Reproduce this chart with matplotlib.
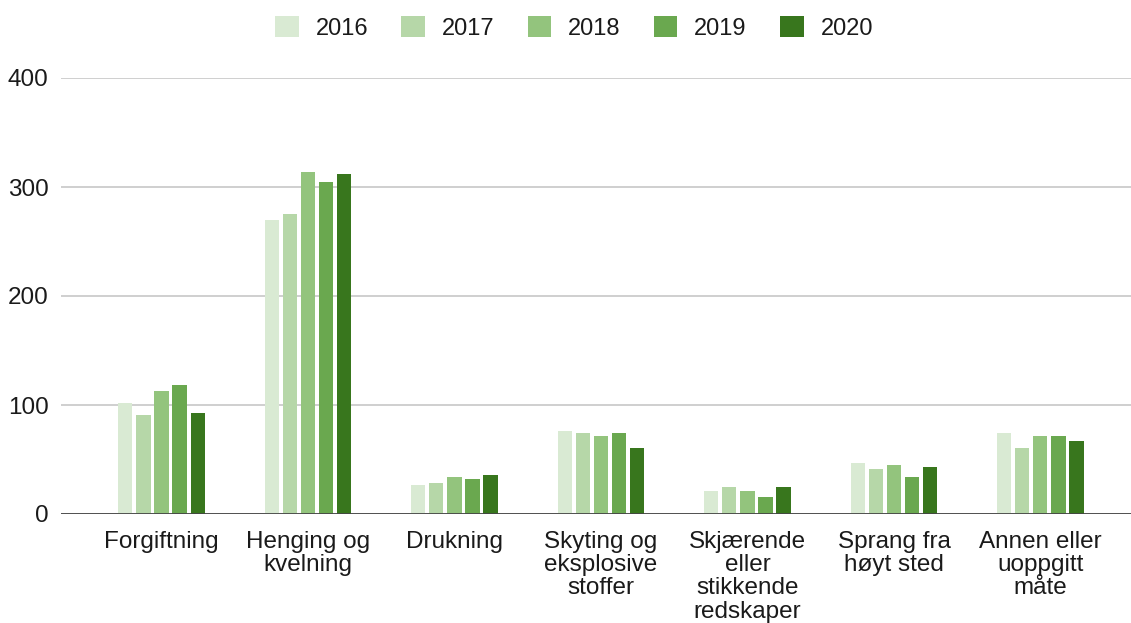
import matplotlib
matplotlib.use("Agg")
import matplotlib.pyplot as plt
import numpy as np

plt.rcParams['font.family'] = ['Liberation Sans', 'DejaVu Sans']

categories = ["Forgiftning", "Henging og\nkvelning", "Drukning", "Skyting og\neksplosive\nstoffer",
              "Skjærende\neller\nstikkende\nredskaper", "Sprang fra\nhøyt sted", "Annen eller\nuoppgitt\nmåte"]
years = ["2016", "2017", "2018", "2019", "2020"]
v2016 = [102, 270, 27, 76, 21, 47, 74]
v2017 = [91, 275, 28, 74, 25, 41, 61]
v2018 = [113, 314, 34, 72, 21, 45, 72]
v2019 = [118, 305, 32, 74, 16, 34, 72]
v2020 = [93, 312, 36, 61, 25, 43, 67]
colors = ["#d9ead3", "#b6d7a8", "#93c47d", "#6aa84f", "#38761d"]

series = [v2016, v2017, v2018, v2019, v2020]

fig = plt.figure(figsize=(11.31, 6.23), dpi=100)
ax = fig.add_axes([61/1131, 1 - 514/623, 1 - 61/1131, (514 - 78)/623])

x = np.arange(len(categories))
step = 0.123
width = 0.096
for i, (vals, c, yr) in enumerate(zip(series, colors, years)):
    ax.bar(x + (i - 2) * step, vals, width, color=c, label=yr, zorder=3)

ax.set_ylim(0, 400)
ax.set_xlim(-0.686, 6.618)
ax.set_yticks([0, 100, 200, 300, 400])
ax.yaxis.grid(True, color="#cccccc", linewidth=1.3, zorder=0)
ax.axhline(0, color="#444444", linewidth=2, zorder=4)
for s in ax.spines.values():
    s.set_visible(False)
ax.tick_params(axis='both', length=0, labelsize=17.5, labelcolor="#1a1a1a")
ax.tick_params(axis='y', pad=9)
ax.tick_params(axis='x', pad=12)
ax.set_xticks(x)
ax.set_xticklabels(categories, linespacing=1.08, va='top')

leg = fig.legend(loc='center', bbox_to_anchor=(574/1131, 1 - 28/623), ncol=5, frameon=False,
                 fontsize=17, handlelength=1.0, handleheight=1.0, columnspacing=1.4, handletextpad=0.72)
for t in leg.get_texts():
    t.set_color("#1a1a1a")

fig.savefig("out.png", dpi=100)
